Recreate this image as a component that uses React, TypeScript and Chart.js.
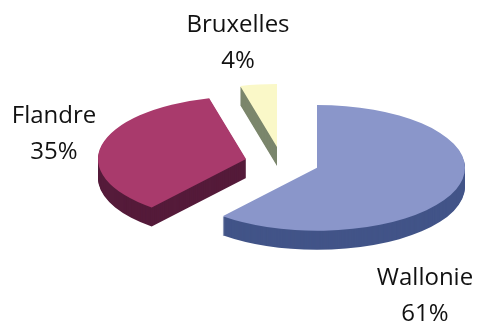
import React, { useEffect, useRef } from "react";
import { Chart, registerables } from "chart.js";

Chart.register(...registerables);

const regions = ["Wallonie", "Flandre", "Bruxelles"];
const shares = [61, 35, 4];
const topColors = ["#8A96CA", "#A93A6C", "#FAF8C8"];
const sideColors = ["#425488", "#551B3A", "#7B866C"];

const SQUASH = 0.425;
const DEPTH = 19;
const EXPLODE = 37;
const RADIUS = 148;
const CENTER_SHIFT_X = 88;
const FONT = '24px "Open Sans", "Noto Sans", sans-serif';

const labelPlacement = [
  { x: 425, y: 278, lineGap: 36 },
  { x: 54, y: 116, lineGap: 36 },
  { x: 238, y: 25, lineGap: 36 },
];

const placeArc = (ctx: CanvasRenderingContext2D, arc: any, drop: number) => {
  const mid = (arc.startAngle + arc.endAngle) / 2;
  // the wedge tip lands on a whole pixel so the wall does not fringe a vertical cut
  const tipX = Math.floor(arc.x + Math.cos(mid) * EXPLODE);
  ctx.translate(tipX - arc.x, drop + Math.sin(mid) * EXPLODE * SQUASH);
  ctx.translate(0, arc.y);
  ctx.scale(1, SQUASH);
  ctx.translate(0, -arc.y);
};

const pie3d = {
  id: "pie3d",
  beforeDatasetDraw(chart: any) {
    const { ctx } = chart;
    const arcs = chart.getDatasetMeta(0).data;
    // extruded walls, swept downwards from the library's own arc geometry
    for (let d = DEPTH; d >= 1; d--) {
      arcs.forEach((arc: any, i: number) => {
        ctx.save();
        placeArc(ctx, arc, d);
        ctx.beginPath();
        ctx.moveTo(arc.x, arc.y);
        ctx.arc(arc.x, arc.y, arc.outerRadius, arc.startAngle, arc.endAngle);
        ctx.closePath();
        ctx.fillStyle = sideColors[i];
        ctx.fill();
        ctx.restore();
      });
    }
    // top faces: the library's own arc elements, each moved out of the pie
    arcs.forEach((arc: any) => {
      ctx.save();
      placeArc(ctx, arc, 0);
      arc.draw(ctx);
      ctx.restore();
    });
    return false;
  },
  afterDraw(chart: any) {
    const { ctx } = chart;
    ctx.save();
    ctx.font = FONT;
    ctx.fillStyle = "#111111";
    ctx.textAlign = "center";
    ctx.textBaseline = "middle";
    regions.forEach((name, i) => {
      const p = labelPlacement[i];
      ctx.fillText(name, p.x, p.y);
      ctx.fillText(`${shares[i]}%`, p.x, p.y + p.lineGap);
    });
    ctx.restore();
  },
};

export default function App() {
  const ref = useRef<HTMLCanvasElement | null>(null);
  useEffect(() => {
    const chart = new Chart(ref.current as HTMLCanvasElement, {
      type: "pie",
      data: {
        labels: regions,
        datasets: [
          {
            data: shares,
            backgroundColor: topColors,
            borderWidth: 0,
          },
        ],
      },
      options: {
        animation: false,
        responsive: false,
        radius: RADIUS,
        layout: { padding: { left: CENTER_SHIFT_X, top: 3 } },
        plugins: { legend: { display: false }, tooltip: { enabled: false } },
      },
      plugins: [pie3d],
    } as any);
    return () => chart.destroy();
  }, []);
  return (
    <canvas
      ref={ref}
      width={477}
      height={322}
      style={{ position: "absolute", left: 0, top: 0, width: 477, height: 322, background: "#fff" }}
    />
  );
}
